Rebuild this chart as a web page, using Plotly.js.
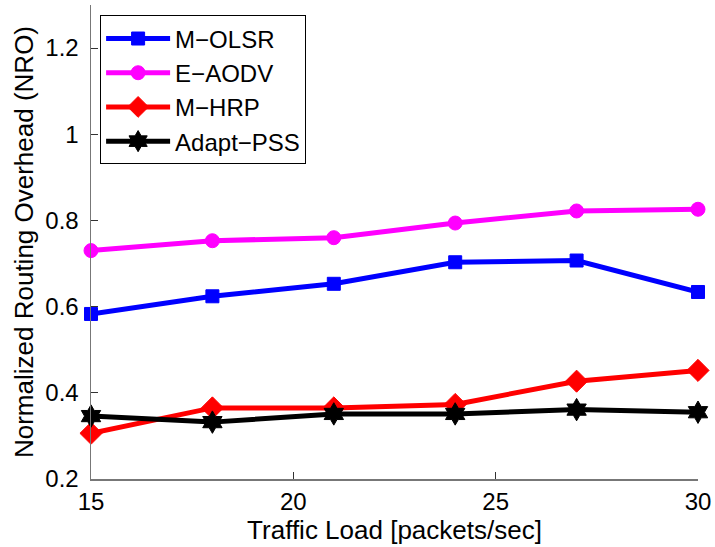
<!DOCTYPE html>
<html><head><meta charset="utf-8">
<script src="https://cdn.plot.ly/plotly-3.0.1.min.js"></script>
<style>body{margin:0;padding:0;background:#fff}#chart{width:715px;height:547px}</style>
</head><body><div id="chart"></div>
<script>
const trafficLoad = [15, 18, 21, 24, 27, 30];
const mOLSR = [0.583, 0.624, 0.653, 0.703, 0.707, 0.634];
const eAODV = [0.730, 0.753, 0.760, 0.794, 0.822, 0.826];
const mHRP = [0.306, 0.365, 0.365, 0.373, 0.427, 0.452];
const adaptPSS = [0.346, 0.332, 0.351, 0.351, 0.361, 0.355];
const seriesNames = ['M\u2212OLSR', 'E\u2212AODV', 'M\u2212HRP', 'Adapt\u2212PSS'];
const xTicks = [15, 20, 25, 30];
const yTicks = [0.2, 0.4, 0.6, 0.8, 1, 1.2];
const yTickText = ['0.2', '0.4', '0.6', '0.8', '1', '1.2'];

function tr(y, name, color, symbol, size) {
  return {x: trafficLoad, y: y, name: name, type: 'scatter', mode: 'lines+markers',
    line: {color: color, width: 5},
    marker: {color: color, symbol: symbol, size: size, line: {color: color, width: 1}},
    cliponaxis: false};
}
const data = [
  tr(mOLSR, seriesNames[0], '#0000ff', 'square', 13),
  tr(eAODV, seriesNames[1], '#ff00ff', 'circle', 14),
  tr(mHRP, seriesNames[2], '#ff0000', 'diamond', 17),
  tr(adaptPSS, seriesNames[3], '#000000', 'hexagram', 17)
];
const font = {family: 'Liberation Sans, Arial, sans-serif', color: '#000'};
const layout = {
  width: 715, height: 547,
  margin: {l: 91, r: 17, t: 5, b: 68},
  paper_bgcolor: '#fff', plot_bgcolor: '#fff',
  font: Object.assign({size: 22}, font),
  showlegend: true,
  legend: {x: 0.015, y: 0.978, xanchor: 'left', yanchor: 'top',
    bordercolor: '#000', borderwidth: 1, bgcolor: '#fff', traceorder: 'normal',
    font: Object.assign({size: 24}, font), itemwidth: 64},
  xaxis: {range: [15, 30], tickvals: xTicks, ticktext: xTicks.map(String),
    showgrid: false, zeroline: false, showline: true, linecolor: '#777', linewidth: 1.5,
    ticks: 'inside', ticklen: 7, tickcolor: '#333', tickfont: Object.assign({size: 24}, font),
    ticklabelstandoff: 1, automargin: false,
    title: {text: 'Traffic Load [packets/sec]', font: Object.assign({size: 26}, font), standoff: 0}},
  yaxis: {range: [0.2, 1.3], tickvals: yTicks, ticktext: yTickText,
    showgrid: false, zeroline: false, showline: true, linecolor: '#777', linewidth: 1.5,
    ticks: 'inside', ticklen: 7, tickcolor: '#333', tickfont: Object.assign({size: 24}, font),
    ticklabelstandoff: 6, automargin: false,
    title: {text: 'Normalized Routing Overhead (NRO)', font: Object.assign({size: 26}, font), standoff: 4}}
};
Plotly.newPlot('chart', data, layout, {displayModeBar: false, staticPlot: true});
</script></body></html>
